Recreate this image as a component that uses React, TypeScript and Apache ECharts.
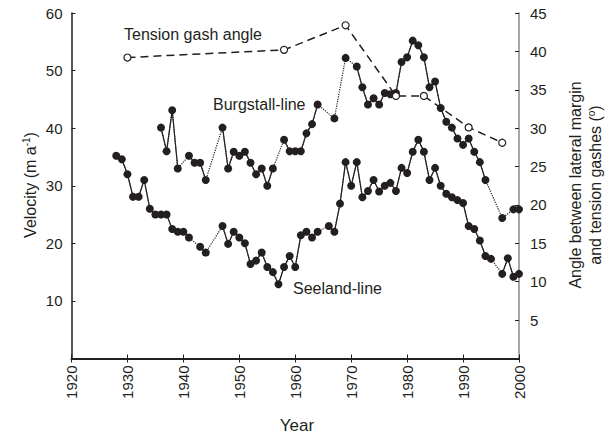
import React, { useEffect, useRef } from "react";
import * as echarts from "echarts";

const seelandYears = [1928, 1929, 1930, 1931, 1932, 1933, 1934, 1935, 1936, 1937, 1938, 1939, 1940, 1941, 1943, 1944, 1947, 1948, 1949, 1950, 1951, 1952, 1953, 1954, 1955, 1956, 1957, 1958, 1959, 1960, 1961, 1962, 1963, 1964, 1966, 1967, 1968, 1969, 1970, 1971, 1972, 1973, 1974, 1975, 1976, 1977, 1978, 1979, 1980, 1981, 1982, 1983, 1984, 1985, 1986, 1987, 1988, 1989, 1990, 1991, 1992, 1993, 1994, 1995, 1997, 1998, 1999, 2000];
const seelandValues = [35.2, 34.6, 32.0, 28.1, 28.1, 31.0, 26.0, 25.0, 25.0, 25.0, 22.5, 22.0, 22.0, 21.0, 19.4, 18.4, 23.0, 19.9, 22.0, 21.0, 20.0, 16.4, 17.0, 18.4, 15.9, 15.0, 12.9, 15.9, 17.8, 15.9, 21.4, 22.0, 21.0, 22.0, 23.0, 22.0, 26.9, 34.1, 30.0, 34.1, 28.0, 29.1, 31.0, 29.0, 30.0, 30.5, 29.1, 33.1, 32.2, 35.9, 38.0, 35.9, 31.0, 33.1, 30.0, 28.6, 28.0, 27.5, 27.0, 23.0, 22.5, 20.5, 17.8, 17.3, 14.7, 17.4, 14.2, 14.7];

const burgstallYears = [1936, 1937, 1938, 1939, 1941, 1942, 1943, 1944, 1947, 1948, 1949, 1950, 1951, 1952, 1953, 1954, 1955, 1956, 1958, 1959, 1960, 1961, 1962, 1963, 1964, 1967, 1969, 1971, 1972, 1973, 1974, 1975, 1976, 1977, 1978, 1979, 1980, 1981, 1982, 1983, 1984, 1985, 1986, 1987, 1988, 1989, 1990, 1991, 1992, 1993, 1994, 1997, 1999, 2000];
const burgstallValues = [40.1, 36.0, 43.1, 33.0, 35.2, 34.0, 34.0, 31.0, 40.1, 33.0, 35.9, 35.2, 35.9, 34.0, 32.0, 33.0, 30.0, 33.0, 38.0, 36.0, 36.0, 36.0, 39.1, 40.7, 44.1, 41.7, 52.2, 50.7, 47.1, 44.1, 45.2, 44.1, 46.1, 45.9, 46.1, 51.5, 52.3, 55.2, 54.4, 52.3, 47.1, 48.1, 43.5, 41.1, 40.1, 38.2, 37.1, 38.2, 35.9, 34.1, 31.0, 24.4, 25.9, 25.9];

const tensionYears = [1930, 1958, 1969, 1978, 1983, 1991, 1997];
const tensionAngles = [39.2, 40.2, 43.4, 34.2, 34.2, 30.1, 28.1];

const xTicks = [1920, 1930, 1940, 1950, 1960, 1970, 1980, 1990, 2000];

const INK = "#231f20";
const FONT = "Liberation Sans, Arial, sans-serif";

function pairs(years: number[], vals: number[]) {
  return years.map((y, i) => [y, vals[i]]);
}

function withGaps(years: number[], vals: number[]) {
  const out: any[] = [];
  years.forEach((y, i) => {
    if (i > 0 && y - years[i - 1] > 1) out.push([years[i - 1] + 1, null]);
    out.push([y, vals[i]]);
  });
  return out;
}

function lineSeries(name: string, years: number[], vals: number[]) {
  return [
    {
      name: name + "-gap",
      type: "line",
      data: pairs(years, vals),
      showSymbol: false,
      symbol: "none",
      lineStyle: { color: INK, width: 1.2, type: "dotted" },
      silent: true,
      z: 2,
    },
    {
      name,
      type: "line",
      data: withGaps(years, vals),
      connectNulls: false,
      symbol: "circle",
      symbolSize: 8,
      showAllSymbol: true,
      itemStyle: { color: INK },
      lineStyle: { color: INK, width: 1.2 },
      z: 3,
    },
  ];
}

export default function App() {
  const ref = useRef<HTMLDivElement>(null);
  useEffect(() => {
    if (!ref.current) return;
    const chart = echarts.init(ref.current, null, { renderer: "svg" });
    const tickLabel = { color: INK, fontSize: 15, fontFamily: FONT };
    const note = { fontSize: 16, fontFamily: FONT, fill: INK, verticalAlign: "middle" };
    chart.setOption({
      animation: false,
      backgroundColor: "#fff",
      grid: { left: 71.5, right: 89, top: 13, bottom: 86.5, containLabel: false },
      xAxis: [
        {
          type: "value",
          min: 1920,
          max: 2000,
          interval: 10,
          position: "bottom",
          axisLine: { lineStyle: { color: INK, width: 2 } },
          axisTick: { inside: true, length: 4, lineStyle: { color: INK } },
          axisLabel: { ...tickLabel, rotate: 90, margin: 7, formatter: (v: number) => (xTicks.includes(v) ? String(v) : "") },
          splitLine: { show: false },
        },
        {
          type: "value",
          min: 1920,
          max: 2000,
          interval: 10,
          position: "top",
          axisLine: { lineStyle: { color: INK, width: 1 } },
          axisTick: { inside: true, length: 4, lineStyle: { color: INK } },
          axisLabel: { show: false },
          splitLine: { show: false },
        },
      ],
      yAxis: [
        {
          type: "value",
          min: 0,
          max: 60,
          interval: 10,
          position: "left",
          axisLine: { show: true, lineStyle: { color: INK, width: 1.5 } },
          axisTick: { show: true, inside: true, length: 4, lineStyle: { color: INK } },
          axisLabel: { ...tickLabel, margin: 9, formatter: (v: number) => (v === 0 ? "" : String(v)) },
          splitLine: { show: false },
        },
        {
          type: "value",
          min: 0,
          max: 45,
          interval: 5,
          position: "right",
          axisLine: { show: true, lineStyle: { color: "#8a8a8a", width: 1.5 } },
          axisTick: { show: true, inside: true, length: 4, lineStyle: { color: INK } },
          axisLabel: { ...tickLabel, margin: 11, formatter: (v: number) => (v === 0 ? "" : String(v)) },
          splitLine: { show: false },
        },
      ],
      series: [
        ...lineSeries("Seeland-line", seelandYears, seelandValues),
        ...lineSeries("Burgstall-line", burgstallYears, burgstallValues),
        {
          name: "Tension gash angle",
          type: "line",
          yAxisIndex: 1,
          data: pairs(tensionYears, tensionAngles),
          symbol: "circle",
          symbolSize: 7,
          itemStyle: { color: "#fff", borderColor: INK, borderWidth: 1.2 },
          lineStyle: { color: INK, width: 1.5, type: [8, 5] },
          z: 5,
        },
      ],
      graphic: [
        { type: "text", x: 124, y: 34, style: { text: "Tension gash angle", ...note } },
        { type: "text", x: 213, y: 104, style: { text: "Burgstall-line", ...note } },
        { type: "text", x: 293, y: 288, style: { text: "Seeland-line", ...note } },
        { type: "text", x: 297, y: 425, style: { text: "Year", fontSize: 17, fontFamily: FONT, fill: INK, align: "center", verticalAlign: "middle" } },
        {
          type: "text",
          x: 30,
          y: 185,
          rotation: Math.PI / 2,
          style: {
            text: "{a|Velocity (m a}{s|-1}{a|)}",
            align: "center",
            verticalAlign: "middle",
            fill: INK,
            rich: {
              a: { fontSize: 16, fontFamily: FONT, fill: INK, lineHeight: 18 },
              s: { fontSize: 10, fontFamily: FONT, fill: INK, lineHeight: 18, padding: [0, 0, 8, 0] },
            },
          },
        },
        {
          type: "text",
          x: 575,
          y: 185,
          rotation: Math.PI / 2,
          style: { text: "Angle between lateral margin", align: "center", verticalAlign: "middle", fontSize: 16, fontFamily: FONT, fill: INK },
        },
        {
          type: "text",
          x: 595,
          y: 185,
          rotation: Math.PI / 2,
          style: {
            text: "{a|and tension gashes (}{s|o}{a|)}",
            align: "center",
            verticalAlign: "middle",
            fill: INK,
            rich: {
              a: { fontSize: 16, fontFamily: FONT, fill: INK, lineHeight: 18 },
              s: { fontSize: 10, fontFamily: FONT, fill: INK, lineHeight: 18, padding: [0, 0, 8, 0] },
            },
          },
        },
      ],
    });
    return () => chart.dispose();
  }, []);
  return <div ref={ref} style={{ position: "fixed", left: 0, top: 0, width: 608, height: 445 }} />;
}
